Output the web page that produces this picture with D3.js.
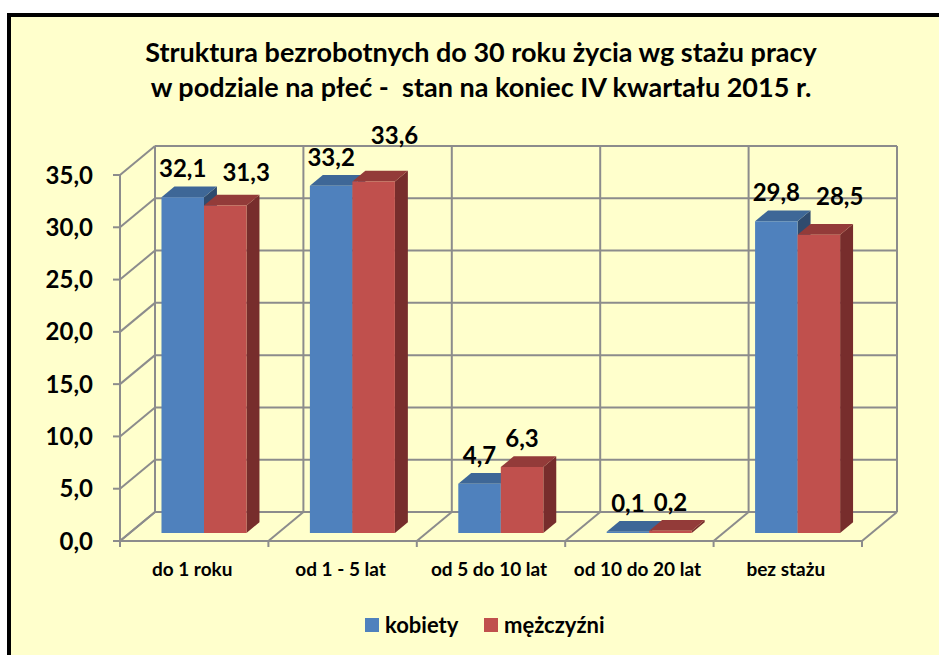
<!DOCTYPE html>
<html>
<head>
<meta charset="utf-8" />
<title>Struktura bezrobotnych do 30 roku życia</title>
<script src="https://d3js.org/d3.v7.min.js"></script>
<style>
  body { margin: 0; background: #ffffff; }
  text { font-family: Lato, "Open Sans", sans-serif; font-weight: bold; fill: #000; white-space: pre; }
</style>
</head>
<body>
<svg id="viz"></svg>
<script>

// data
var categories = ["do 1 roku", "od 1 - 5 lat", "od 5 do 10 lat", "od 10 do 20 lat", "bez stażu"];
var seriesNames = ["kobiety", "mężczyźni"];
var kobiety = [32.1, 33.2, 4.7, 0.1, 29.8];
var mezczyzni = [31.3, 33.6, 6.3, 0.2, 28.5];
var yTicks = [0, 5, 10, 15, 20, 25, 30, 35];
var titleLines = ["Struktura bezrobotnych do 30 roku życia wg stażu pracy",
                  "w podziale na płeć -  stan na koniec IV kwartału 2015 r."];

var width = 939, height = 655;
var DX = 35, DY = 29;          // depth of the 3d box
var Z0 = 0.28, Z1 = 0.65;      // depth of the bars inside the box
var colors = {
  kobiety:   {front: "#4F81BD", top: "#3E6797", side: "#2F4B6E"},
  mezczyzni: {front: "#C0504D", top: "#933B39", side: "#772D2C"}
};
var gridColor = "#8C8C8C";

var svg = d3.select("#viz")
  .attr("width", width)
  .attr("height", height);

// frame
svg.append("rect")
  .attr("x", 9).attr("y", 15)
  .attr("width", width + 10).attr("height", height + 10)
  .attr("fill", "#FFFFCC")
  .attr("stroke", "#000")
  .attr("stroke-width", 4);

// title
svg.selectAll("text.title")
  .data(titleLines)
  .enter().append("text")
  .attr("class", "title")
  .attr("x", 481)
  .attr("y", function(d, i) { return 62 + i * 35; })
  .attr("text-anchor", "middle")
  .style("font-size", "27px")
  .text(function(d) { return d; });

// scales
var x0 = d3.scaleBand().domain(categories).range([120, 862]);
var bw = x0.bandwidth();
var gw = bw * 0.573;
var x1 = d3.scaleBand().domain(seriesNames).range([(bw - gw) / 2, (bw + gw) / 2]);
var y = d3.scaleLinear().domain([0, 35]).range([541, 175]);

function px(x, z) { return x + z * DX; }
function py(yy, z) { return yy - z * DY; }
function pts(list) {
  return list.map(function(p) { return px(p[0], p[2]) + "," + py(p[1], p[2]); }).join(" ");
}

var grid = svg.append("g")
  .attr("stroke", gridColor)
  .attr("stroke-width", 2)
  .attr("fill", "none");

// back wall + left wall lines
yTicks.forEach(function(t) {
  grid.append("line")
    .attr("x1", px(120, 1)).attr("y1", py(y(t), 1))
    .attr("x2", px(862, 1)).attr("y2", py(y(t), 1));
  grid.append("line")
    .attr("x1", px(120, 0)).attr("y1", y(t))
    .attr("x2", px(120, 1)).attr("y2", py(y(t), 1));
  grid.append("line")
    .attr("x1", 113).attr("y1", y(t))
    .attr("x2", 120).attr("y2", y(t));
});

var bounds = categories.map(function(c) { return x0(c); }).concat([x0.range()[1]]);
bounds.forEach(function(b) {
  grid.append("line")
    .attr("x1", px(b, 1)).attr("y1", py(y(0), 1))
    .attr("x2", px(b, 1)).attr("y2", py(y(35), 1));
  grid.append("line")
    .attr("x1", b).attr("y1", y(0))
    .attr("x2", px(b, 1)).attr("y2", py(y(0), 1));
  grid.append("line")
    .attr("x1", b).attr("y1", y(0))
    .attr("x2", b).attr("y2", y(0) + 6);
});

// front axis lines
grid.append("line")
  .attr("x1", 120).attr("y1", y(0))
  .attr("x2", 120).attr("y2", y(35));
grid.append("line")
  .attr("x1", 120).attr("y1", y(0))
  .attr("x2", 862).attr("y2", y(0));

// y labels
svg.selectAll("text.ylab")
  .data(yTicks)
  .enter().append("text")
  .attr("class", "ylab")
  .attr("x", 93)
  .attr("y", function(d) { return y(d); })
  .attr("dy", "0.36em")
  .attr("text-anchor", "end")
  .style("font-size", "24px")
  .text(function(d) { return d3.format(".1f")(d).replace(".", ","); });

// category labels
svg.selectAll("text.xlab")
  .data(categories)
  .enter().append("text")
  .attr("class", "xlab")
  .attr("x", function(d) { return x0(d) + bw / 2 - 2; })
  .attr("y", 576)
  .attr("text-anchor", "middle")
  .style("font-size", "19px")
  .text(function(d) { return d; });

// bars
var barData = [];
categories.forEach(function(c, i) {
  barData.push({cat: c, key: "kobiety", name: seriesNames[0], value: kobiety[i]});
  barData.push({cat: c, key: "mezczyzni", name: seriesNames[1], value: mezczyzni[i]});
});

var bars = svg.selectAll("g.bar")
  .data(barData)
  .enter().append("g")
  .attr("class", "bar");

bars.each(function(d) {
  var g = d3.select(this);
  var xa = x0(d.cat) + x1(d.name);
  var xb = xa + x1.bandwidth();
  var yt = y(d.value), yb = y(0);
  g.append("polygon")
    .attr("points", pts([[xb, yb, Z0], [xb, yb, Z1], [xb, yt, Z1], [xb, yt, Z0]]))
    .attr("fill", colors[d.key].side);
  g.append("polygon")
    .attr("points", pts([[xa, yt, Z0], [xb, yt, Z0], [xb, yt, Z1], [xa, yt, Z1]]))
    .attr("fill", colors[d.key].top);
  g.append("polygon")
    .attr("points", pts([[xa, yb, Z0], [xb, yb, Z0], [xb, yt, Z0], [xa, yt, Z0]]))
    .attr("fill", colors[d.key].front);
});

// value labels, the second one is pushed aside when it hits the first
var labels = svg.selectAll("text.val")
  .data(barData)
  .enter().append("text")
  .attr("class", "val")
  .attr("text-anchor", "middle")
  .style("font-size", "24px")
  .text(function(d) { return d3.format(".1f")(d.value).replace(".", ","); });

labels.each(function(d) {
  var xa = x0(d.cat) + x1(d.name);
  d.lx = px(xa + x1.bandwidth() / 2, Z0);
  d.ly = py(y(d.value), Z0) - 20;
  d.w = this.getComputedTextLength();
});

categories.forEach(function(c) {
  var pair = barData.filter(function(d) { return d.cat == c; });
  var a = pair[0], b = pair[1];
  var aRight = a.lx + a.w / 2;
  if (b.lx - b.w / 2 < aRight + 6) {
    b.lx = aRight + 16 + b.w / 2;
    if (b.value > a.value) b.ly -= 18;
    else b.ly = Math.min(b.ly, a.ly + 4);
  }
});

labels
  .attr("x", function(d) { return d.lx; })
  .attr("y", function(d) { return d.ly; });

// legend
var legend = svg.append("g");
var legendX = [365, 484];
seriesNames.forEach(function(s, i) {
  var key = i == 0 ? "kobiety" : "mezczyzni";
  legend.append("rect")
    .attr("x", legendX[i]).attr("y", 618)
    .attr("width", 14).attr("height", 14)
    .attr("fill", colors[key].front);
  legend.append("text")
    .attr("x", legendX[i] + 20).attr("y", 633)
    .style("font-size", "22px")
    .text(s);
});

</script>
</body>
</html>
